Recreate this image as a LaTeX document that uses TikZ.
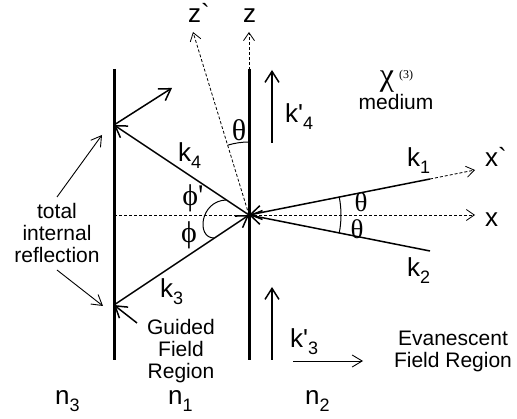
\documentclass[tikz,border=0pt]{standalone}
\usepackage{fontspec}
\setmainfont{Liberation Sans}
\newfontfamily\gkfont{Liberation Serif}
\usetikzlibrary{arrows.meta}
\newcommand\lsub[2]{#1\raisebox{-7pt}{\fontsize{18}{18}\selectfont #2}}
\begin{document}
\begin{tikzpicture}[x=1pt,y=-1pt,
  wall/.style={line width=3pt},
  kray/.style={line width=1.5pt},
  khead/.style={-{Straight Barb[length=11pt,width=14pt]}},
  ptr/.style={line width=0.9pt,-{Straight Barb[length=10pt,width=12pt]}},
  axisln/.style={line width=0.8pt,dash pattern=on 3pt off 2pt,-{Straight Barb[length=8pt,width=11pt]}},
  thin/.style={line width=1pt},
  big/.style={font=\fontsize{26}{28}\selectfont,inner sep=0pt,anchor=base west},
  gk/.style={font=\gkfont\fontsize{30}{32}\selectfont,inner sep=0pt},
  gks/.style={font=\gkfont\fontsize{27}{29}\selectfont,inner sep=0pt},
  txt/.style={font=\fontsize{21}{22}\selectfont,align=center,inner sep=0pt}]
\useasboundingbox (0,0) rectangle (517,419);
% coordinates
\coordinate (O) at (249,215);
\coordinate (A) at (114,125);
\coordinate (B) at (114,305);
\coordinate (Ltop) at (114,69);
\coordinate (Lbot) at (114,360);
\coordinate (Rtop) at (249,69);
\coordinate (Rbot) at (249,360);
\coordinate (zptip) at (193,32);
\coordinate (ztip) at (249,32);
\coordinate (xstart) at (114,215);
\coordinate (xtip) at (475,215);
\coordinate (k1end) at (430,179);
\coordinate (xptip) at (475,170);
\coordinate (k2end) at (430,251);
\coordinate (Aref) at (172,88);
\coordinate (Bin) at (137,323);
\coordinate (k4pa) at (272,143);
\coordinate (k4pb) at (272,70);
\coordinate (k3pa) at (272,360);
\coordinate (k3pb) at (272,287);
\coordinate (eva) at (293,361);
\coordinate (evb) at (363,361);
\coordinate (tirtop) at (57,197);
\coordinate (tirA) at (102,135);
\coordinate (tirbot) at (57,270);
\coordinate (tirB) at (103,306);
\coordinate (pa) at (226,200);
\coordinate (pc1) at (200,201);
\coordinate (pc2) at (196,238);
\coordinate (pb) at (214,238);
% axes
\draw[axisln] (O) -- (zptip);
\draw[axisln] (O) -- (ztip);
\draw[axisln] (xstart) -- (xtip);
\draw[axisln] (k1end) -- (xptip);
% walls
\draw[wall] (Ltop) -- (Lbot);
\draw[wall] (Rtop) -- (Rbot);
% rays
\draw[kray,khead] (k1end) -- (O);
\draw[kray,khead] (k2end) -- (O);
\draw[kray,khead] (B) -- (O);
\draw[kray,khead] (O) -- (A);
\draw[kray,khead] (A) -- (Aref);
\draw[kray,khead] (Bin) -- (B);
\draw[kray,khead] (k4pa) -- (k4pb);
\draw[kray,khead] (k3pa) -- (k3pb);
\draw[ptr] (eva) -- (evb);
\draw[ptr] (tirtop) -- (tirA);
\draw[ptr] (tirbot) -- (tirB);
% angle arcs
\draw[thin] ([shift={(-90:73)}]O) arc[start angle=-90,end angle=-107,radius=73];
\draw[thin] ([shift={(11.2:92)}]O) arc[start angle=11.2,end angle=-11.2,radius=92];
\draw[thin] (pa) .. controls (pc1) and (pc2) .. (pb);
% labels
\node[big] (lzp) at (188,23) {z\textasciigrave};
\node[big] (lz) at (243,23) {z};
\node[big] (lxp) at (485,167) {x\textasciigrave};
\node[big] (lx) at (485,227) {x};
\node[big] (lk1) at (407,167) {\lsub{k}{1}};
\node[big] (lk2) at (407,277) {\lsub{k}{2}};
\node[big] (lk4p) at (285,123) {\lsub{k\textquotesingle}{4}};
\node[big] (lk3p) at (290,348) {\lsub{k\textquotesingle}{3}};
\node[big] (lk4) at (178,162) {\lsub{k}{4}};
\node[big] (lk3) at (160,298) {\lsub{k}{3}};
\node[big] (ln3) at (55,405) {\lsub{n}{3}};
\node[big] (ln1) at (168,405) {\lsub{n}{1}};
\node[big] (ln2) at (305,405) {\lsub{n}{2}};
\node[gk] (th1) at (239,130) {θ};
\node[gks] (th2) at (361,202) {θ};
\node[gks] (th3) at (357,229) {θ};
\node[gk] (ph1) at (193,198) {ϕ\textquotesingle};
\node[gk] (ph2) at (189,235) {ϕ};
\node[gk,font=\gkfont\fontsize{32}{34}\selectfont] (chi) at (387,82) {χ};
\node[inner sep=0pt,font=\gkfont\fontsize{12}{12}\selectfont] (chis) at (406,76) {(3)};
\node[txt] (med) at (396,102) {medium};
\node[txt] (tir) at (57,233) {total\\internal\\reflection};
\node[txt] (gfr) at (181,351) {Guided\\Field\\Region};
\node[txt] (efr) at (453,351) {Evanescent\\Field Region};
\end{tikzpicture}
\end{document}
